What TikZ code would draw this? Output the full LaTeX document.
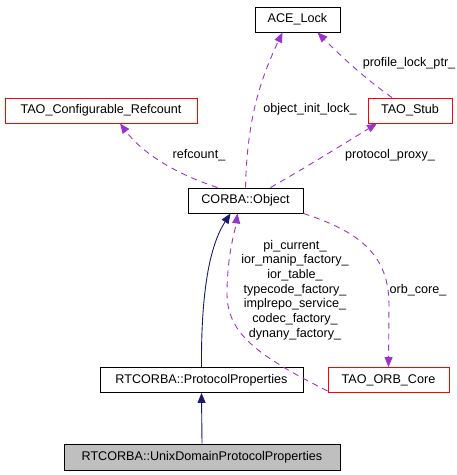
\documentclass[tikz,border=0pt]{standalone}
\usepackage{fontspec}
\setmainfont{Liberation Sans}
\usetikzlibrary{arrows.meta}
\definecolor{edgepurple}{HTML}{9A32CD}
\definecolor{navyedge}{HTML}{191970}
\definecolor{boxgrey}{HTML}{BFBFBF}
\begin{document}
\begin{tikzpicture}[x=1pt,y=-1pt,
  every node/.style={font=\fontsize{12.6}{14.7}\selectfont, inner sep=0pt},
  cls/.style={draw=black, line width=0.9pt, rectangle, minimum height=25pt},
  redcls/.style={cls, draw=red},
  lbl/.style={align=center},
  usearrow/.style={draw=edgepurple, line width=0.9pt, dash pattern=on 6pt off 5pt, -{Triangle[length=10pt,width=8pt,fill=edgepurple]}},
  inherit/.style={draw=navyedge, line width=0.9pt, -{Triangle[length=10pt,width=8pt,fill=navyedge]}}]
\useasboundingbox (0,0) rectangle (457,475);
\node[cls, minimum width=85pt] (ace) at (297.5,19.5) {ACE\_Lock};
\node[redcls, minimum width=192pt] (ref) at (101,110.5) {TAO\_Configurable\_Refcount};
\node[redcls, minimum width=84pt] (stub) at (410,110.5) {TAO\_Stub};
\node[cls, minimum width=115pt] (obj) at (245.5,200.5) {CORBA::Object};
\node[cls, minimum width=203pt] (pp) at (201.5,380) {RTCORBA::ProtocolProperties};
\node[redcls, minimum width=121pt] (orb) at (388.5,380) {TAO\_ORB\_Core};
\node[cls, fill=boxgrey, minimum width=276pt, minimum height=26pt] (unix) at (202,457) {RTCORBA::UnixDomainProtocolProperties};

\draw[inherit] (unix.north) -- (pp.south);
\draw[inherit] (pp.north) .. controls (201,290) and (210,245) .. ([xshift=-15pt]obj.south);
\draw[usearrow] ([yshift=-11pt]orb.west) .. controls (250,352) and (226,330) .. (227,290) .. controls (228,250) and (235,232) .. ([xshift=-8pt]obj.south);
\draw[usearrow] (obj.south east) .. controls (360,232) and (389,255) .. (389,305) -- (orb.north);
\draw[usearrow] ([xshift=0pt]obj.north) .. controls (247,120) and (260,80) .. ([xshift=-15pt]ace.south);
\draw[usearrow] ([xshift=-18pt]stub.north) .. controls (360,75) and (335,50) .. ([xshift=20pt]ace.south);
\draw[usearrow] ([xshift=-28pt]obj.north) .. controls (170,172) and (140,150) .. ([xshift=19pt]ref.south);
\draw[usearrow] ([xshift=25pt]obj.north) .. controls (310,165) and (350,140) .. ([xshift=-33pt]stub.south);

\node[lbl] (l1) at (295,290) {pi\_current\_\\ior\_manip\_factory\_\\ior\_table\_\\typecode\_factory\_\\implrepo\_service\_\\codec\_factory\_\\dynany\_factory\_};
\node (l2) at (418,290) {orb\_core\_};
\node (l3) at (310,109) {object\_init\_lock\_};
\node (l4) at (409,63) {profile\_lock\_ptr\_};
\node (l5) at (199,155) {refcount\_};
\node (l6) at (390,155) {protocol\_proxy\_};
\end{tikzpicture}
\end{document}
